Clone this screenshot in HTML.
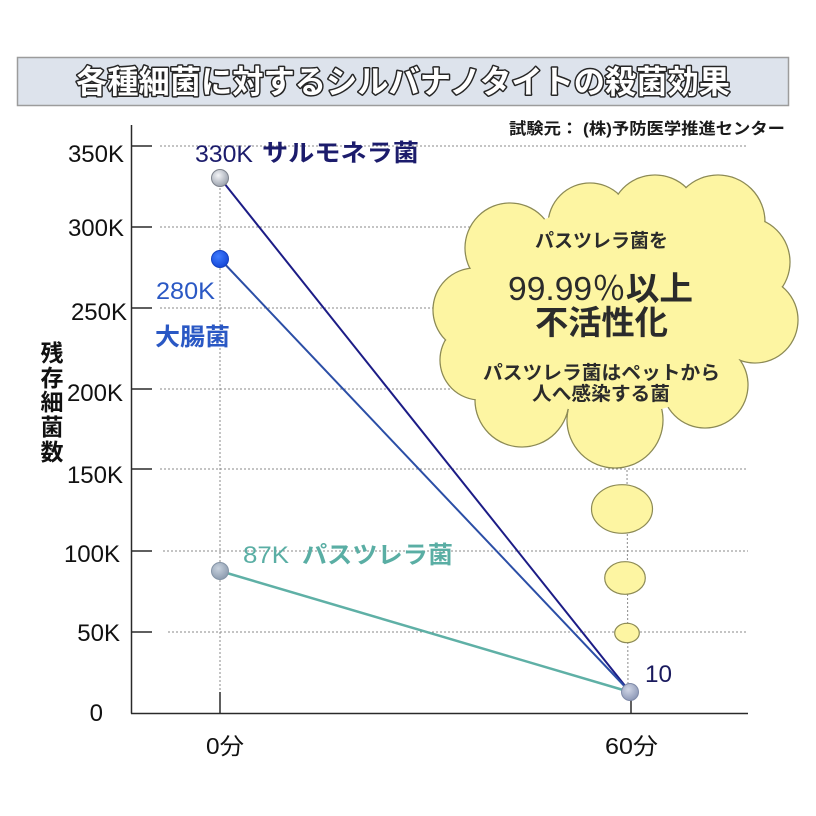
<!DOCTYPE html>
<html>
<head>
<meta charset="utf-8">
<style>
  html,body{margin:0;padding:0;background:#fff;}
  svg{display:block;}
  text{font-family:"Liberation Sans","Noto Sans CJK JP",sans-serif;}
</style>
</head>
<body>
<svg width="816" height="816" viewBox="0 0 816 816" xmlns="http://www.w3.org/2000/svg">
  <defs>
    <radialGradient id="gGray" cx="40%" cy="35%" r="65%">
      <stop offset="0" stop-color="#f4f5f8"/>
      <stop offset="1" stop-color="#9ca3ae"/>
    </radialGradient>
    <radialGradient id="gBlue" cx="40%" cy="35%" r="65%">
      <stop offset="0" stop-color="#3f7cff"/>
      <stop offset="1" stop-color="#1548d8"/>
    </radialGradient>
    <radialGradient id="gTeal" cx="40%" cy="35%" r="65%">
      <stop offset="0" stop-color="#c8d2de"/>
      <stop offset="1" stop-color="#8e9db0"/>
    </radialGradient>
    <radialGradient id="gEnd" cx="40%" cy="35%" r="65%">
      <stop offset="0" stop-color="#d0d6e6"/>
      <stop offset="1" stop-color="#8f9ab8"/>
    </radialGradient>
  </defs>

  <rect x="0" y="0" width="816" height="816" fill="#ffffff"/>

  <!-- Title box -->
  <rect x="17.5" y="57.5" width="771" height="48" fill="#dde3ec" stroke="#9c9c9c" stroke-width="1.5"/>
  <text x="76" y="93" font-size="32" font-weight="bold" fill="#ffffff" stroke="#262626" stroke-width="3" stroke-linejoin="round" paint-order="stroke fill" textLength="654" lengthAdjust="spacingAndGlyphs">各種細菌に対するシルバナノタイトの殺菌効果</text>

  <!-- source -->
  <text x="509" y="134" font-size="16" font-weight="bold" fill="#1a1a1a" textLength="276" lengthAdjust="spacingAndGlyphs">試験元： (株)予防医学推進センター</text>

  <!-- horizontal dotted gridlines -->
  <g stroke="#8a8a8a" stroke-width="1" stroke-dasharray="2,2">
    <line x1="160" y1="146" x2="748" y2="146"/>
    <line x1="160" y1="227" x2="748" y2="227"/>
    <line x1="160" y1="308" x2="748" y2="308"/>
    <line x1="160" y1="389" x2="748" y2="389"/>
    <line x1="160" y1="469" x2="748" y2="469"/>
    <line x1="163" y1="551" x2="748" y2="551"/>
    <line x1="168" y1="632" x2="748" y2="632"/>
    <!-- vertical dotted -->
    <line x1="220" y1="188" x2="220" y2="692"/>
    <line x1="627" y1="470" x2="628" y2="690"/>
  </g>

  <!-- axes -->
  <g stroke="#2a2a2a" stroke-width="1.5">
    <line x1="131.5" y1="125" x2="131.5" y2="713.5"/>
    <line x1="131" y1="713.5" x2="748" y2="713.5"/>
    <line x1="131" y1="146" x2="152" y2="146"/>
    <line x1="131" y1="227" x2="152" y2="227"/>
    <line x1="131" y1="308" x2="152" y2="308"/>
    <line x1="131" y1="389" x2="152" y2="389"/>
    <line x1="131" y1="469" x2="152" y2="469"/>
    <line x1="131" y1="551" x2="152" y2="551"/>
    <line x1="131" y1="632" x2="152" y2="632"/>
    <line x1="220" y1="692" x2="220" y2="713"/>
    <line x1="631" y1="694" x2="631" y2="713"/>
  </g>

  <!-- y tick labels -->
  <g font-size="24" fill="#111" text-anchor="end">
    <text x="124" y="162">350K</text>
    <text x="124" y="236">300K</text>
    <text x="127" y="320">250K</text>
    <text x="123" y="401">200K</text>
    <text x="123" y="483">150K</text>
    <text x="120" y="562">100K</text>
    <text x="120" y="641">50K</text>
    <text x="103" y="721">0</text>
  </g>

  <!-- y axis title -->
  <g font-size="23" font-weight="bold" fill="#111" text-anchor="middle">
    <text x="52" y="361">残</text>
    <text x="52" y="386">存</text>
    <text x="52" y="410">細</text>
    <text x="52" y="435">菌</text>
    <text x="52" y="460">数</text>
  </g>

  <!-- x labels -->
  <text x="206" y="754" font-size="23" fill="#111" textLength="38" lengthAdjust="spacingAndGlyphs">0分</text>
  <text x="605" y="754" font-size="23" fill="#111" textLength="53" lengthAdjust="spacingAndGlyphs">60分</text>

  <!-- cloud -->
  <g fill="#fdf5a2" stroke="#8c8a55" stroke-width="1.3">
    <circle cx="510" cy="248" r="45"/>
    <circle cx="590" cy="225" r="42"/>
    <circle cx="655" cy="220" r="45"/>
    <circle cx="718" cy="222" r="47"/>
    <circle cx="745" cy="262" r="45"/>
    <circle cx="755" cy="320" r="43"/>
    <circle cx="705" cy="385" r="43"/>
    <circle cx="615" cy="420" r="48"/>
    <circle cx="522" cy="400" r="47"/>
    <circle cx="480" cy="360" r="40"/>
    <circle cx="475" cy="310" r="42"/>
  </g>
  <g fill="#fdf5a2" stroke="none">
    <circle cx="510" cy="248" r="44.2"/>
    <circle cx="590" cy="225" r="41.2"/>
    <circle cx="655" cy="220" r="44.2"/>
    <circle cx="718" cy="222" r="46.2"/>
    <circle cx="745" cy="262" r="44.2"/>
    <circle cx="755" cy="320" r="42.2"/>
    <circle cx="705" cy="385" r="42.2"/>
    <circle cx="615" cy="420" r="47.2"/>
    <circle cx="522" cy="400" r="46.2"/>
    <circle cx="480" cy="360" r="39.2"/>
    <circle cx="475" cy="310" r="41.2"/>
    <ellipse cx="615" cy="310" rx="140" ry="105"/>
  </g>

  <!-- cloud text -->
  <g fill="#2b2b2b" font-weight="bold">
    <text x="535" y="247" font-size="19" textLength="133" lengthAdjust="spacingAndGlyphs">パスツレラ菌を</text>
    <text x="508" y="300" font-size="33" font-weight="normal" textLength="185" lengthAdjust="spacingAndGlyphs">99.99％<tspan font-weight="bold">以上</tspan></text>
    <text x="535" y="334" font-size="33" textLength="133" lengthAdjust="spacingAndGlyphs">不活性化</text>
    <text x="483" y="379" font-size="19" textLength="237" lengthAdjust="spacingAndGlyphs">パスツレラ菌はペットから</text>
    <text x="532" y="400" font-size="19" textLength="138" lengthAdjust="spacingAndGlyphs">人へ感染する菌</text>
  </g>

  <!-- thought bubbles -->
  <g fill="#fdf5a2" stroke="#8c8a55" stroke-width="1.2">
    <ellipse cx="622" cy="509" rx="30.5" ry="24.3"/>
    <ellipse cx="625" cy="578" rx="20.3" ry="16.3"/>
    <ellipse cx="627" cy="633" rx="12.3" ry="9.7"/>
  </g>

  <!-- series lines -->
  <line x1="220" y1="178" x2="630" y2="692" stroke="#1c1c86" stroke-width="2"/>
  <line x1="220" y1="259" x2="630" y2="692" stroke="#2b4ea6" stroke-width="2"/>
  <line x1="220" y1="571" x2="630" y2="692" stroke="#5fb0a6" stroke-width="2.5"/>

  <!-- dots -->
  <circle cx="220" cy="178" r="8.5" fill="url(#gGray)" stroke="#7d828c" stroke-width="1"/>
  <circle cx="220" cy="259" r="8.5" fill="url(#gBlue)" stroke="#1240c0" stroke-width="1"/>
  <circle cx="220" cy="571" r="8.5" fill="url(#gTeal)" stroke="#8494a6" stroke-width="1"/>
  <circle cx="630" cy="692" r="8.5" fill="url(#gEnd)" stroke="#7f8aa8" stroke-width="1"/>

  <!-- series labels -->
  <text x="195" y="162" font-size="24" fill="#1c1c6c" textLength="58" lengthAdjust="spacingAndGlyphs">330K</text>
  <text x="262" y="161" font-size="24" font-weight="bold" fill="#1c1c6c" textLength="157" lengthAdjust="spacingAndGlyphs">サルモネラ菌</text>
  <text x="156" y="299" font-size="24" fill="#2a58c4" textLength="59" lengthAdjust="spacingAndGlyphs">280K</text>
  <text x="155" y="345" font-size="24" font-weight="bold" fill="#2a58c4" textLength="75" lengthAdjust="spacingAndGlyphs">大腸菌</text>
  <text x="243" y="563" font-size="24" fill="#5aaea4" textLength="46" lengthAdjust="spacingAndGlyphs">87K</text>
  <text x="302" y="563" font-size="24" font-weight="bold" fill="#5aaea4" textLength="151" lengthAdjust="spacingAndGlyphs">パスツレラ菌</text>
  <text x="645" y="682" font-size="24" fill="#1a1a5e" textLength="27" lengthAdjust="spacingAndGlyphs">10</text>
</svg>
</body>
</html>
